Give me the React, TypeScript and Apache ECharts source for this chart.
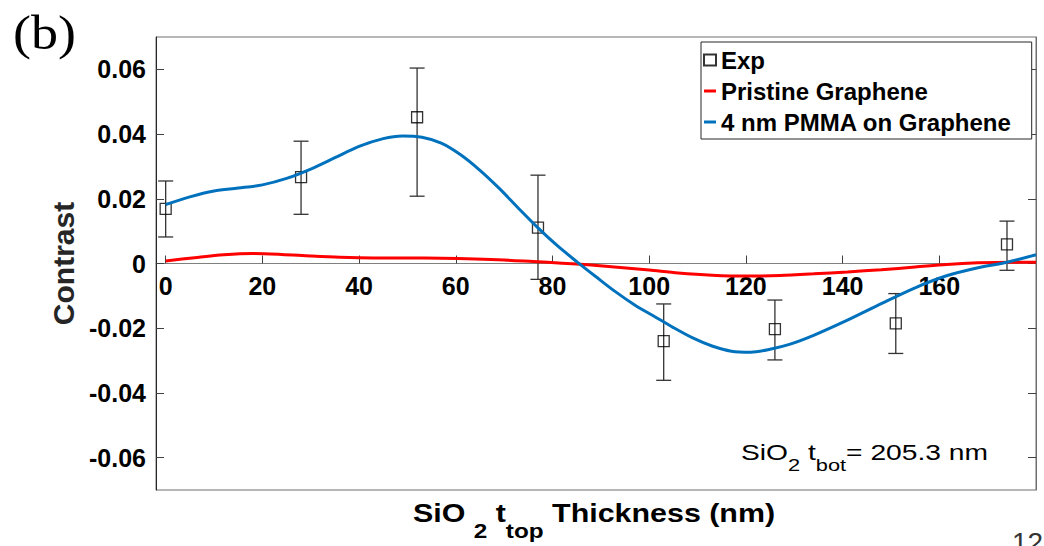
import React, { useEffect, useRef } from 'react';
import * as echarts from 'echarts';

const FONT = '"Liberation Sans", Arial, Helvetica, sans-serif';
const FONT_NAME = '"Liberation Sans"';

// Experimental points
const expX = [0, 28, 52, 77, 103, 126, 151, 174];
const expY = [0.0169, 0.0267, 0.0452, 0.0111, -0.024, -0.0203, -0.0185, 0.0059];
const expLow = [0.0082, 0.0152, 0.0208, -0.0049, -0.0361, -0.0298, -0.0278, -0.0021];
const expHigh = [0.0255, 0.0378, 0.0604, 0.0273, -0.0125, -0.0113, -0.0093, 0.0131];

// Pristine graphene (red)
const pristineX = [0, 6, 12, 18, 24, 30, 36, 43, 50, 57, 64, 70, 76, 82, 88, 94, 100, 106, 113, 120, 127, 134, 141, 148, 155, 161.5, 168, 175, 180];
const pristineY = [0.0008, 0.0018, 0.0027, 0.0031, 0.0028, 0.0023, 0.0019, 0.0017, 0.0017, 0.0016, 0.0014, 0.0011, 0.0006, 0.0001, -0.0005, -0.0012, -0.002, -0.0029, -0.0036, -0.0039, -0.0037, -0.0032, -0.0026, -0.0019, -0.0011, -0.0003, 0.0002, 0.0004, 0.0004];

// 4 nm PMMA on graphene (blue)
const pmmaX = [0, 5, 10, 15, 20, 25, 30, 35, 40, 45, 49, 53, 57, 61, 65, 69, 73, 77, 81, 85, 89, 93, 97, 101, 105, 109, 113, 117, 121, 125, 129, 134, 141, 148, 155, 161.5, 168, 174, 180];
const pmmaY = [0.0182, 0.0206, 0.0224, 0.0233, 0.0243, 0.0263, 0.0292, 0.0327, 0.0362, 0.0386, 0.0394, 0.039, 0.0372, 0.0336, 0.0288, 0.0232, 0.017, 0.011, 0.0055, 0.0006, -0.0041, -0.0087, -0.0128, -0.0163, -0.0198, -0.023, -0.0255, -0.0271, -0.0274, -0.0265, -0.025, -0.0222, -0.0175, -0.0124, -0.0075, -0.0038, -0.0013, 0.0004, 0.0027];

const xTicks = [0, 20, 40, 60, 80, 100, 120, 140, 160];
const yTicks = [-0.06, -0.04, -0.02, 0, 0.02, 0.04, 0.06];
const legendNames = ['Exp', 'Pristine Graphene', '4 nm PMMA on Graphene'];

function measure(text: string, font: string): number {
  const ctx = document.createElement('canvas').getContext('2d');
  if (!ctx) return text.length * 10;
  ctx.font = font;
  return ctx.measureText(text).width;
}

type Seg = { text: string; size: number; dy: number };

function lineOfTexts(segs: Seg[], x0: number, yMid: number, targetWidth: number, weight: string, family: string, color: string) {
  const fonts = segs.map((s) => `${weight} ${s.size}px ${family}`);
  const widths = segs.map((s, i) => measure(s.text, fonts[i]));
  const total = widths.reduce((a, b) => a + b, 0);
  const sx = targetWidth / total;
  let x = x0;
  const els: any[] = [];
  segs.forEach((s, i) => {
    const trimmed = s.text.replace(/^\s+/, '');
    const lead = s.text.length - trimmed.length;
    const leadW = lead > 0 ? measure(s.text.slice(0, lead), fonts[i]) : 0;
    els.push({
      type: 'text',
      x: x + leadW * sx,
      y: yMid + s.dy,
      scaleX: sx,
      silent: true,
      style: {
        text: trimmed.replace(/\s+$/, ''),
        font: fonts[i],
        fill: color,
        align: 'left',
        textAlign: 'left',
        verticalAlign: 'middle',
        textVerticalAlign: 'middle',
      },
    });
    x += widths[i] * sx;
  });
  return els;
}

const GRID_TOP = 37;
const GRID_BOTTOM = 56;
const CHART_H = 546;

export default function App() {
  const ref = useRef<HTMLDivElement>(null);

  useEffect(() => {
    if (!ref.current) return;
    const chart = echarts.init(ref.current, undefined, { renderer: 'svg' });

    const xTitle = lineOfTexts(
      [
        { text: 'SiO ', size: 25, dy: 0 },
        { text: '2', size: 20, dy: 18 },
        { text: ' t', size: 25, dy: 0 },
        { text: 'top', size: 20, dy: 18 },
        { text: ' Thickness (nm)', size: 25, dy: 0 },
      ],
      413, 513, 362, 'bold', FONT_NAME, '#000'
    );

    const annot = lineOfTexts(
      [
        { text: 'SiO', size: 22, dy: 0 },
        { text: '2', size: 17, dy: 13 },
        { text: ' t', size: 22, dy: 0 },
        { text: 'bot', size: 17, dy: 13 },
        { text: '= 205.3 nm', size: 22, dy: 0 },
      ],
      741, 452, 247, 'normal', FONT_NAME, '#000'
    );

    const bLabel = lineOfTexts([{ text: '(b)', size: 48, dy: 0 }], 13, 33, 63, 'normal', '"Liberation Serif"', '#000');

    // x axis sits on y = 0 (middle of the symmetric y range)
    const plotH = CHART_H - GRID_TOP - GRID_BOTTOM;
    const xAxisOffset = -plotH / 2;

    const lineIcon = 'path://M0,0H12V3H0Z';

    const option: any = {
      animation: false,
      backgroundColor: '#ffffff',
      tooltip: { show: false },
      grid: {
        left: 156,
        right: 8,
        top: GRID_TOP,
        bottom: GRID_BOTTOM,
        show: true,
        borderColor: '#6e6e6e',
        borderWidth: 1,
        backgroundColor: 'transparent',
      },
      legend: {
        data: [
          { name: legendNames[0] },
          { name: legendNames[1], icon: lineIcon },
          { name: legendNames[2], icon: lineIcon },
        ],
        orient: 'vertical',
        left: 701,
        top: 42,
        padding: [5, 20, 4, 2],
        itemGap: 5,
        itemWidth: 12,
        itemHeight: 11,
        symbolKeepAspect: true,
        borderColor: '#262626',
        borderWidth: 1,
        backgroundColor: '#ffffff',
        selectedMode: false,
        textStyle: {
          fontSize: 24,
          fontWeight: 'bold',
          fontFamily: FONT,
          color: '#000',
          lineHeight: 26,
        },
      },
      xAxis: {
        type: 'value',
        position: 'bottom',
        min: -2,
        max: 180,
        offset: xAxisOffset,
        axisLine: {
          show: true,
          onZero: false,
          lineStyle: { color: '#808080', width: 1 },
        },
        axisTick: {
          show: true,
          inside: true,
          length: 8,
          customValues: xTicks,
          lineStyle: { color: '#404040', width: 1 },
        },
        axisLabel: {
          customValues: xTicks,
          fontSize: 25,
          fontWeight: 'bold',
          fontFamily: FONT,
          color: '#000',
          margin: 10,
        },
        splitLine: { show: false },
      },
      yAxis: [
        {
          type: 'value',
          position: 'left',
          min: -0.07,
          max: 0.07,
          name: 'Contrast',
          nameLocation: 'middle',
          nameRotate: 90,
          nameGap: 76,
          nameTextStyle: { fontSize: 30, fontWeight: 'bold', fontFamily: FONT, color: '#262626' },
          axisLine: { show: true, onZero: false, lineStyle: { color: '#262626', width: 1 } },
          axisTick: { show: true, inside: true, length: 8, customValues: yTicks, lineStyle: { color: '#404040' } },
          axisLabel: {
            customValues: yTicks,
            formatter: (v: number) => (Math.abs(v) < 1e-9 ? '0' : v.toFixed(2)),
            fontSize: 25,
            fontWeight: 'bold',
            fontFamily: FONT,
            color: '#000',
            margin: 10,
          },
          splitLine: { show: false },
        },
        {
          type: 'value',
          position: 'right',
          min: -0.07,
          max: 0.07,
          axisLine: { show: true, onZero: false, lineStyle: { color: '#6e6e6e', width: 1 } },
          axisTick: { show: true, inside: true, length: 8, customValues: yTicks, lineStyle: { color: '#404040' } },
          axisLabel: { show: false },
          splitLine: { show: false },
        },
      ],
      series: [
        {
          name: 'ExpErr',
          type: 'custom',
          silent: true,
          z: 2,
          encode: { x: 0, y: [1, 2] },
          data: expX.map((x, i) => [x, expLow[i], expHigh[i]]),
          renderItem: (params: any, api: any) => {
            const x = api.value(0);
            const lo = api.coord([x, api.value(1)]);
            const hi = api.coord([x, api.value(2)]);
            const w = 7.5;
            const st = { stroke: '#333333', lineWidth: 1.3 };
            return {
              type: 'group',
              children: [
                { type: 'line', shape: { x1: lo[0], y1: lo[1], x2: hi[0], y2: hi[1] }, style: st },
                { type: 'line', shape: { x1: lo[0] - w, y1: lo[1], x2: lo[0] + w, y2: lo[1] }, style: st },
                { type: 'line', shape: { x1: hi[0] - w, y1: hi[1], x2: hi[0] + w, y2: hi[1] }, style: st },
              ],
            };
          },
        },
        {
          name: 'Exp',
          type: 'scatter',
          z: 3,
          symbol: 'rect',
          symbolSize: 11,
          data: expX.map((x, i) => [x, expY[i]]),
          itemStyle: { color: 'rgba(255,255,255,0)', borderColor: '#000', borderWidth: 1.3 },
        },
        {
          name: 'Pristine Graphene',
          type: 'line',
          z: 4,
          smooth: 0.3,
          symbol: 'none',
          data: pristineX.map((x, i) => [x, pristineY[i]]),
          lineStyle: { color: '#FF0000', width: 3 },
          itemStyle: { color: '#FF0000' },
        },
        {
          name: '4 nm PMMA on Graphene',
          type: 'line',
          z: 5,
          smooth: 0.3,
          symbol: 'none',
          data: pmmaX.map((x, i) => [x, pmmaY[i]]),
          lineStyle: { color: '#0072BD', width: 3 },
          itemStyle: { color: '#0072BD' },
        },
      ],
      graphic: [
        ...bLabel,
        ...xTitle,
        ...annot,
        {
          type: 'text',
          x: 1012,
          y: 542,
          silent: true,
          style: { text: '12', font: `28px ${FONT_NAME}`, fill: '#333', verticalAlign: 'middle', textVerticalAlign: 'middle' },
        },
      ],
    };

    chart.setOption(option);
    return () => {
      chart.dispose();
    };
  }, []);

  return (
    <div
      ref={ref}
      style={{ position: 'absolute', left: 0, top: 0, width: 1044, height: 546, background: '#fff' }}
    />
  );
}
